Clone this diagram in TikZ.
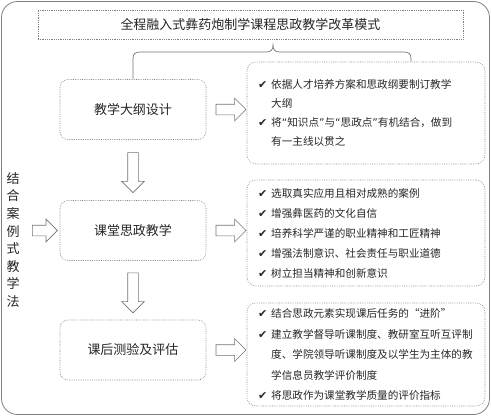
\documentclass[tikz,border=0pt]{standalone}
\usepackage{fontspec}
\setmainfont{Noto Sans CJK SC}
\newfontfamily\chkfont{DejaVu Sans}
\usetikzlibrary{shapes.arrows, calc, positioning}

\newcommand{\chk}{{\chkfont\fontsize{11pt}{0pt}\selectfont ✔}\kern4pt}
\newcommand{\nochk}{\phantom{\chk}}
\newcommand{\lquo}{{\chkfont “}}
\newcommand{\rquo}{{\chkfont ”}}

\begin{document}
\begin{tikzpicture}[x=1pt, y=-1pt, semithick, text=black!85,
    font=\fontsize{10.6pt}{20pt}\selectfont]

  \tikzstyle{frame}=[draw=black!50, line width=0.8pt, rounded corners=16pt]
  \tikzstyle{dotbox}=[draw=black!50, line width=0.6pt, dash pattern=on 0.7pt off 1.1pt]
  \tikzstyle{stage}=[dotbox, rounded corners=8pt, minimum width=146pt, minimum height=60pt,
    font=\fontsize{13pt}{13pt}\selectfont]
  \tikzstyle{points}=[dotbox, rounded corners=9pt, text width=216pt, inner xsep=11pt, align=left]
  \tikzstyle{hollow}=[single arrow, draw=black!55, line width=0.6pt, inner sep=5pt,
    single arrow head extend=6pt]
  \tikzstyle{brace}=[draw=black!55, line width=0.7pt]

  \useasboundingbox (0,0) rectangle (491,416);
  \draw[frame] (1.5,1.5) rectangle (489.5,414.5);

  \node[dotbox, minimum width=425pt, minimum height=29pt, font=\fontsize{13pt}{13pt}\selectfont]
    (Title) at (250.5,24.5) {全程融入式彝药炮制学课程思政教学改革模式};

  % stages
  \node[stage] (Syllabus) at (133,109.5) {教学大纲设计};
  \node[stage] (Classroom) at (133,230.5) {课堂思政教学};
  \node[stage] (AfterClass) at (133,350) {课后测验及评估};

  % lists
  \node[points, minimum height=102pt, font=\fontsize{10.6pt}{18.7pt}\selectfont]
    (SyllabusList) at (366,113) {\chk 依据人才培养方案和思政纲要制订教学\\
    \nochk 大纲\\
    \chk 将\lquo 知识点\rquo 与\lquo 思政点\rquo 有机结合，做到\\
    \nochk 有一主线以贯之};
  \node[points, minimum height=106pt] (ClassroomList) at (366,233) {\chk 选取真实应用且相对成熟的案例\\
    \chk 增强彝医药的文化自信\\
    \chk 培养科学严谨的职业精神和工匠精神\\
    \chk 增强法制意识、社会责任与职业道德\\
    \chk 树立担当精神和创新意识};
  \node[points, minimum height=103pt, font=\fontsize{10.6pt}{20.5pt}\selectfont]
    (AfterClassList) at (366,354.5) {\chk 结合思政元素实现课后任务的“进阶”\\
    \chk 建立教学督导听课制度、教研室互听互评制\\
    \nochk 度、学院领导听课制度及以学生为主体的教\\
    \nochk 学信息员教学评价制度\\
    \chk 将思政作为课堂教学质量的评价指标};

  \node[align=center, font=\fontsize{13pt}{17.6pt}\selectfont]
    (Method) at (13,240) {结\\合\\案\\例\\式\\教\\学\\法};

  % hollow arrows
  \node[hollow, minimum height=30pt] (ToSyllabusList) at ($(Syllabus.east)+(22,0)$) {};
  \node[hollow, minimum height=30pt] (ToClassroomList) at ($(Classroom.east)+(22,0)$) {};
  \node[hollow, minimum height=30pt] (ToAfterClassList) at ($(AfterClass.east)+(22,0)$) {};
  \node[hollow, minimum height=40pt, rotate=-90] (SyllabusDown) at ($(Syllabus.south)!0.5!(Classroom.north)$) {};
  \node[hollow, minimum height=40pt, rotate=-90] (ClassroomDown) at ($(Classroom.south)!0.5!(AfterClass.north)$) {};
  \node[hollow, minimum height=25pt] (MethodIn) at ($(Classroom.west)+(-17.5,0)$) {};

  % brace under the title
  \coordinate (BraceTip) at (273,45);
  \draw[brace] (Syllabus.north) -- (133,59) .. controls (133,54) and (135,52) .. (140,52)
    -- (266,52) .. controls (271,52) and (273,50) .. (BraceTip)
    .. controls (273,50) and (275,52) .. (280,52)
    -- (404,52) .. controls (409,52) and (411,54) .. (411,59)
    -- (SyllabusList.north -| 411,0);

\end{tikzpicture}
\end{document}
